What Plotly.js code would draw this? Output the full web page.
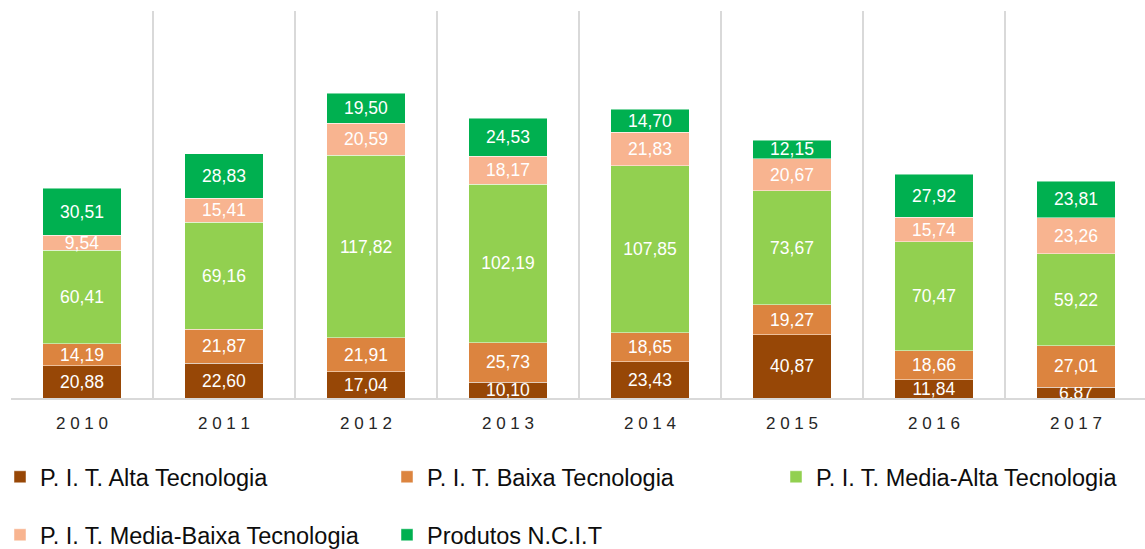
<!DOCTYPE html>
<html>
<head>
<meta charset="utf-8">
<script src="https://cdn.plot.ly/plotly-3.0.1.min.js"></script>
<style>html,body{margin:0;padding:0;overflow:hidden;background:#fff}</style>
</head>
<body>
<div id="chart" style="width:1147px;height:549px"></div>
<script>
const years = ["2010","2011","2012","2013","2014","2015","2016","2017"];
const yearLabels = ["2 0 1 0","2 0 1 1","2 0 1 2","2 0 1 3","2 0 1 4","2 0 1 5","2 0 1 6","2 0 1 7"];
const altaTec = [20.88, 22.60, 17.04, 10.10, 23.43, 40.87, 11.84, 6.87];
const baixaTec = [14.19, 21.87, 21.91, 25.73, 18.65, 19.27, 18.66, 27.01];
const mediaAltaTec = [60.41, 69.16, 117.82, 102.19, 107.85, 73.67, 70.47, 59.22];
const mediaBaixaTec = [9.54, 15.41, 20.59, 18.17, 21.83, 20.67, 15.74, 23.26];
const produtosNCIT = [30.51, 28.83, 19.50, 24.53, 14.70, 12.15, 27.92, 23.81];

const seriesNames = ["P. I. T. Alta Tecnologia","P. I. T. Baixa Tecnologia","P. I. T. Media-Alta Tecnologia","P. I. T. Media-Baixa Tecnologia","Produtos N.C.I.T"];
const seriesData = [altaTec, baixaTec, mediaAltaTec, mediaBaixaTec, produtosNCIT];
const colors = ["#974706","#DC843F","#92D050","#F8B490","#00B050"];
const legendIds = ["legend","legend2","legend3","legend4","legend5"];

const FONT = "Liberation Sans, Arial, sans-serif";

const traces = seriesData.map((d, i) => ({
  type: "bar",
  name: seriesNames[i],
  x: years,
  y: d,
  legend: legendIds[i],
  showlegend: true,
  marker: {color: colors[i], line: {color: "rgba(255,255,255,0.6)", width: 0.8}},
  texttemplate: "%{y:.2f}",
  textposition: "inside",
  insidetextanchor: "middle",
  textangle: 0,
  constraintext: "none",
  textfont: {color: "#ffffff", size: 17.5, family: FONT},
  hoverinfo: "skip"
}));

const W = 1147, H = 549;
function leg(xpx, ypx) {
  return {
    xref: "container", yref: "container",
    x: xpx / W, y: 1 - ypx / H,
    xanchor: "left", yanchor: "middle",
    orientation: "h",
    bgcolor: "rgba(0,0,0,0)",
    font: {size: 23.5, color: "#0d0d0d", family: FONT},
    itemclick: false, itemdoubleclick: false
  };
}

const layout = {
  width: W, height: H,
  showlegend: true,
  margin: {l: 11, r: 0, t: 11, b: 151},
  barmode: "stack",
  bargap: 0.444,
  separators: ",.",
  paper_bgcolor: "#ffffff",
  plot_bgcolor: "#ffffff",
  font: {family: FONT},
  uniformtext: {mode: "show", minsize: 17.5},
  xaxis: {
    type: "category",
    tickmode: "array",
    tickvals: years,
    ticktext: yearLabels,
    tickson: "boundaries",
    showgrid: true,
    gridcolor: "#d9d9d9",
    gridwidth: 1.3,
    ticks: "",
    ticklabelstandoff: 9,
    tickfont: {size: 17, color: "#262626", family: FONT},
    showline: true,
    linecolor: "#d9d9d9",
    linewidth: 1.5,
    zeroline: false
  },
  yaxis: {
    range: [0, 250],
    showgrid: false,
    showticklabels: false,
    zeroline: false,
    showline: false,
    ticks: ""
  },
  legend: leg(0, 477),
  legend2: leg(387, 477),
  legend3: leg(776, 477),
  legend4: leg(0, 535),
  legend5: leg(387, 535)
};

Plotly.newPlot("chart", traces, layout, {displayModeBar: false, staticPlot: true});
</script>
</body>
</html>
